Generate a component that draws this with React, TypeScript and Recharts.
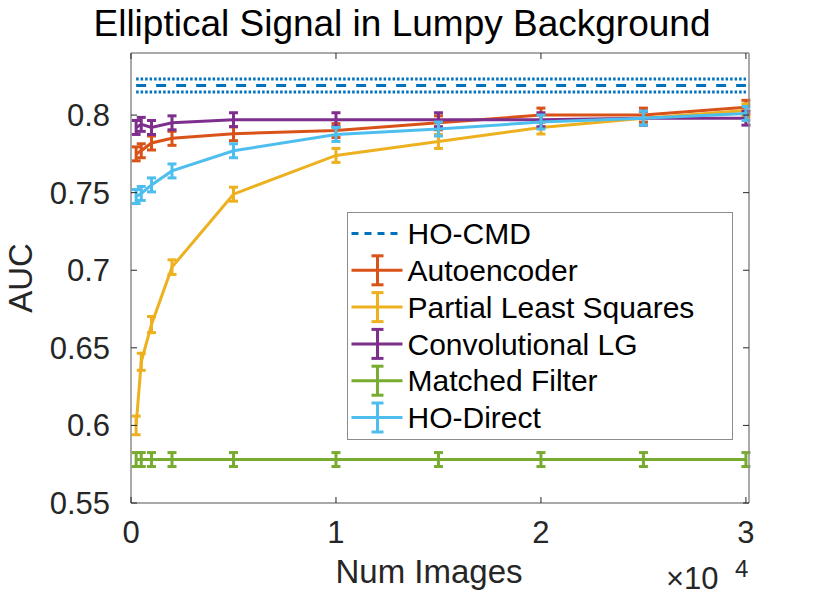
import React from 'react';
import { LineChart, Line, XAxis, YAxis, ErrorBar, Legend } from 'recharts';

// sample sizes (x) and AUC per method
const numImages = [250, 500, 1000, 2000, 5000, 10000, 15000, 20000, 25000, 30000];

const hoCmdAuc = 0.819;
const hoCmdSpread = 0.0042;

const autoencoderAuc = [0.775, 0.777, 0.782, 0.785, 0.788, 0.79, 0.795, 0.8, 0.8, 0.805];
const autoencoderErr = [0.0045, 0.0045, 0.0045, 0.0045, 0.0045, 0.0045, 0.0045, 0.0045, 0.0045, 0.0045];

const plsAuc = [0.6, 0.641, 0.665, 0.702, 0.749, 0.774, 0.783, 0.792, 0.798, 0.803];
const plsErr = [0.006, 0.0055, 0.0052, 0.0047, 0.0045, 0.0045, 0.0045, 0.0042, 0.0042, 0.0042];

const convLgAuc = [0.792, 0.794, 0.792, 0.795, 0.797, 0.797, 0.797, 0.797, 0.798, 0.798];
const convLgErr = [0.0045, 0.0045, 0.0045, 0.0045, 0.0045, 0.0045, 0.0045, 0.0045, 0.0045, 0.0045];

const matchedFilterAuc = [0.578, 0.578, 0.578, 0.578, 0.578, 0.578, 0.578, 0.578, 0.578, 0.578];
const matchedFilterErr = [0.0045, 0.0045, 0.0045, 0.0045, 0.0045, 0.0045, 0.0045, 0.0045, 0.0045, 0.0045];

const hoDirectAuc = [0.7475, 0.7495, 0.755, 0.764, 0.777, 0.7875, 0.791, 0.7955, 0.798, 0.801];
const hoDirectErr = [0.0045, 0.0045, 0.0045, 0.0045, 0.0045, 0.0045, 0.0045, 0.0045, 0.0045, 0.0045];

const xTicks = [0, 10000, 20000, 30000];
const yTicks = [0.55, 0.6, 0.65, 0.7, 0.75, 0.8];

const FONT = '"Liberation Sans", Arial, Helvetica, sans-serif';
const INK = '#262626';
const BOX = '#8c8c8c';
const CMD_COLOR = '#0072BD';
const LW = 3;

const series = [
  { key: 'ae', name: 'Autoencoder', color: '#D95319', values: autoencoderAuc, err: autoencoderErr },
  { key: 'pls', name: 'Partial Least Squares', color: '#EDB120', values: plsAuc, err: plsErr },
  { key: 'clg', name: 'Convolutional LG', color: '#7E2F8E', values: convLgAuc, err: convLgErr },
  { key: 'mf', name: 'Matched Filter', color: '#77AC30', values: matchedFilterAuc, err: matchedFilterErr },
  { key: 'hod', name: 'HO-Direct', color: '#4DBEEE', values: hoDirectAuc, err: hoDirectErr },
];

const data = numImages.map((n, i) => {
  const row: Record<string, number> = {
    n,
    cmd: hoCmdAuc,
    cmdHi: hoCmdAuc + hoCmdSpread,
    cmdLo: hoCmdAuc - hoCmdSpread,
  };
  series.forEach((s) => {
    row[s.key] = s.values[i];
    row[s.key + 'Err'] = s.err[i];
  });
  return row;
});

const TICK_LEN = 6;
const Y_GAP = 21;
const X_GAP = 18;

const LeftTick = (props: any) => {
  const { x, y, payload } = props;
  return (
    <g>
      <line x1={x + Y_GAP} y1={y} x2={x + Y_GAP + TICK_LEN} y2={y} stroke={INK} strokeWidth={1} />
      <text x={x} y={y} dy="0.355em" textAnchor="end" fontSize={31} fontFamily={FONT} fill={INK}>
        {payload.value}
      </text>
    </g>
  );
};

const RightTick = (props: any) => {
  const { x, y } = props;
  return <line x1={x} y1={y} x2={x - TICK_LEN} y2={y} stroke={INK} strokeWidth={1} />;
};

const BottomTick = (props: any) => {
  const { x, y, payload } = props;
  return (
    <g>
      <line x1={x} y1={y - X_GAP} x2={x} y2={y - X_GAP - TICK_LEN} stroke={INK} strokeWidth={1} />
      <text x={x} y={y} dy="0.71em" textAnchor="middle" fontSize={31} fontFamily={FONT} fill={INK}>
        {payload.value / 10000}
      </text>
    </g>
  );
};

const TopTick = (props: any) => {
  const { x, y } = props;
  return <line x1={x} y1={y} x2={x} y2={y + TICK_LEN} stroke={INK} strokeWidth={1} />;
};

const LegendBox = () => {
  const rows = [{ name: 'HO-CMD', color: CMD_COLOR, dashed: true }].concat(
    series.map((s) => ({ name: s.name, color: s.color, dashed: false }))
  );
  return (
    <div
      style={{
        width: 386,
        height: 228,
        boxSizing: 'border-box',
        border: `1.5px solid ${BOX}`,
        background: '#fff',
      }}
    >
      <svg width={383} height={225} style={{ display: 'block' }}>
        {rows.map((r, i) => {
          const cy = 20.5 + i * 36.8;
          return (
            <g key={r.name}>
              {r.dashed ? (
                <line x1={3.5} y1={cy} x2={54.5} y2={cy} stroke={r.color} strokeWidth={LW} strokeDasharray="7 6" />
              ) : (
                <g stroke={r.color} strokeWidth={LW}>
                  <line x1={3.5} y1={cy} x2={54.5} y2={cy} />
                  <line x1={29.5} y1={cy - 14.5} x2={29.5} y2={cy + 14.5} />
                  <line x1={23.5} y1={cy - 14.5} x2={35.5} y2={cy - 14.5} />
                  <line x1={23.5} y1={cy + 14.5} x2={35.5} y2={cy + 14.5} />
                </g>
              )}
              <text x={59.5} y={cy} dy="0.355em" fontSize={30} fontFamily={FONT} fill="#000">
                {r.name}
              </text>
            </g>
          );
        })}
      </svg>
    </div>
  );
};

export default function App() {
  return (
    <div style={{ position: 'absolute', left: 0, top: 0, width: 830, height: 605, background: '#fff' }}>
      <LineChart width={830} height={605} data={data} margin={{ top: 52, right: 80, bottom: 0, left: 0 }}>
        <XAxis
          xAxisId="bottom"
          dataKey="n"
          type="number"
          domain={[0, 30150]}
          ticks={xTicks}
          allowDataOverflow
          height={102}
          tickSize={0}
          tickMargin={X_GAP}
          tickLine={false}
          tick={<BottomTick />}
          axisLine={{ stroke: BOX, strokeWidth: 1.5 }}
          label={(p: any) => {
            const vb = p.viewBox || {};
            return (
              <text x={vb.x + vb.width / 2 - 11} y={583} textAnchor="middle" fontSize={33} fontFamily={FONT} fill={INK}>
                Num Images
              </text>
            );
          }}
        />
        <XAxis
          xAxisId="top"
          orientation="top"
          dataKey="n"
          type="number"
          domain={[0, 30150]}
          ticks={xTicks}
          allowDataOverflow
          height={1}
          tickSize={0}
          tickMargin={0}
          tickLine={false}
          tick={<TopTick />}
          axisLine={{ stroke: BOX, strokeWidth: 1.5 }}
        />
        <YAxis
          yAxisId="left"
          type="number"
          domain={[0.55, 0.84]}
          ticks={yTicks}
          allowDataOverflow
          width={131}
          tickSize={0}
          tickMargin={Y_GAP}
          tickLine={false}
          tick={<LeftTick />}
          axisLine={{ stroke: BOX, strokeWidth: 1.5 }}
          label={(p: any) => {
            const vb = p.viewBox || {};
            const cy = vb.y + vb.height / 2;
            return (
              <text
                x={32}
                y={cy}
                transform={`rotate(-90, 32, ${cy})`}
                textAnchor="middle"
                fontSize={33}
                fontFamily={FONT}
                fill={INK}
              >
                AUC
              </text>
            );
          }}
        />
        <YAxis
          yAxisId="right"
          orientation="right"
          type="number"
          domain={[0.55, 0.84]}
          ticks={yTicks}
          allowDataOverflow
          width={1}
          tickSize={0}
          tickMargin={0}
          tickLine={false}
          tick={<RightTick />}
          axisLine={{ stroke: BOX, strokeWidth: 1.5 }}
        />

        <Line xAxisId="bottom" yAxisId="left" dataKey="cmdHi" stroke={CMD_COLOR} strokeWidth={LW} strokeDasharray="2.5 2" dot={false} isAnimationActive={false} legendType="none" />
        <Line xAxisId="bottom" yAxisId="left" dataKey="cmdLo" stroke={CMD_COLOR} strokeWidth={LW} strokeDasharray="2.5 2" dot={false} isAnimationActive={false} legendType="none" />
        <Line xAxisId="bottom" yAxisId="left" dataKey="cmd" name="HO-CMD" stroke={CMD_COLOR} strokeWidth={LW} strokeDasharray="10 10" dot={false} isAnimationActive={false} />

        {series.map((s) => (
          <Line
            key={s.key}
            xAxisId="bottom"
            yAxisId="left"
            dataKey={s.key}
            name={s.name}
            stroke={s.color}
            strokeWidth={LW}
            dot={false}
            isAnimationActive={false}
          >
            <ErrorBar dataKey={s.key + 'Err'} direction="y" width={4.5} stroke={s.color} strokeWidth={LW} isAnimationActive={false} />
          </Line>
        ))}

        <Legend
          layout="vertical"
          align="center"
          verticalAlign="middle"
          content={() => <LegendBox />}
          wrapperStyle={{ left: 347, top: 212, width: 386, height: 228 }}
        />
      </LineChart>

      <svg width={830} height={605} style={{ position: 'absolute', left: 0, top: 0, pointerEvents: 'none' }}>
        <text x={402} y={36} textAnchor="middle" fontSize={37} fontFamily={FONT} fill="#000">
          Elliptical Signal in Lumpy Background
        </text>
        <text x={666} y={589} fontSize={31} fontFamily={FONT} fill={INK}>
          ×10
        </text>
        <text x={735} y={577} fontSize={24} fontFamily={FONT} fill={INK}>
          4
        </text>
      </svg>
    </div>
  );
}
